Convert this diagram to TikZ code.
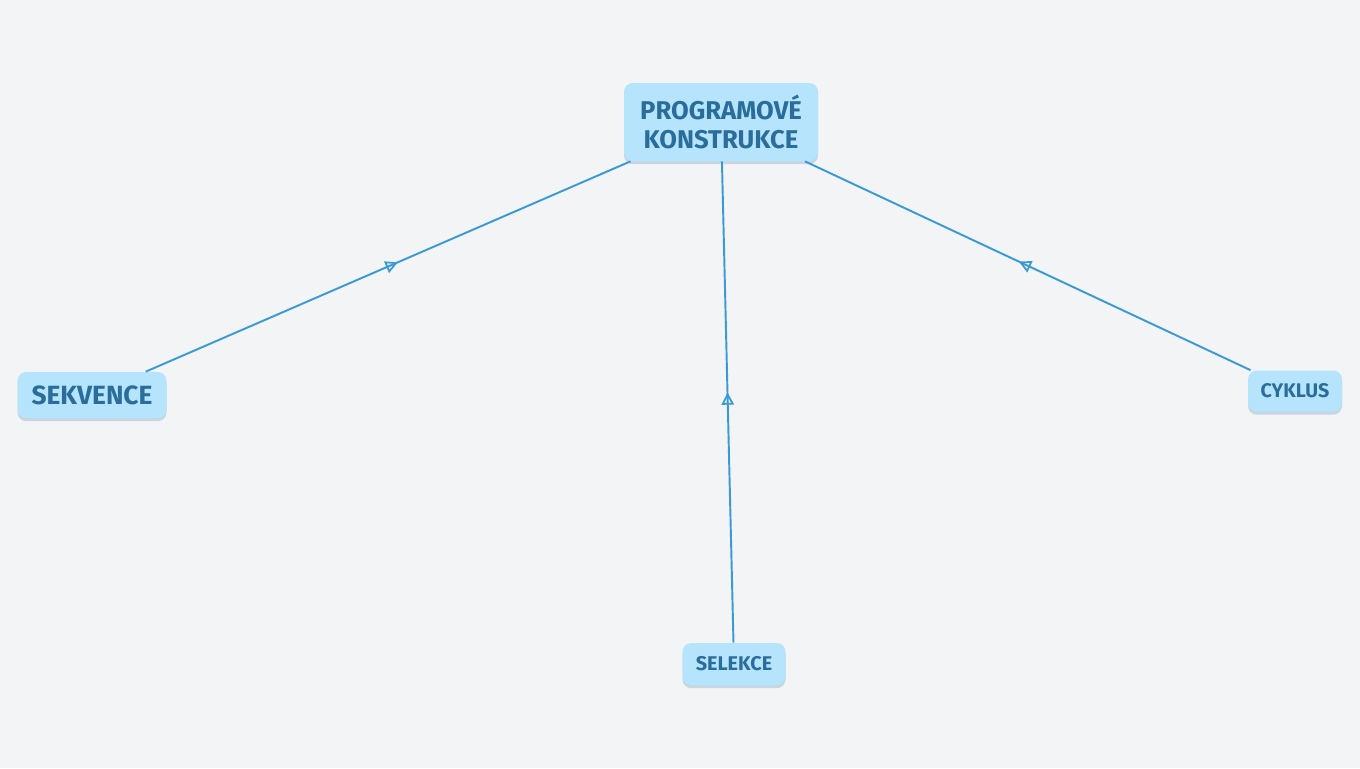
\documentclass[tikz,border=0pt]{standalone}
\usepackage{fontspec}
\setmainfont{Fira Sans}
\usetikzlibrary{arrows.meta,decorations.markings,shadows}
\definecolor{bgcol}{HTML}{F2F4F6}
\definecolor{topicfill}{HTML}{B5E4FC}
\definecolor{topictext}{HTML}{2A6D9B}
\definecolor{linkcol}{HTML}{3A9AD6}
\tikzset{
  topic/.style={fill=topicfill, text=topictext, font=\bfseries, align=center,
    rounded corners=5pt, inner sep=0pt,
    drop shadow={shadow xshift=0pt, shadow yshift=-1.8pt, opacity=0.22, fill=topictext}},
  link/.style={draw=linkcol, line width=1.1pt, postaction={decorate},
    decoration={markings, mark=at position 0.52 with {\arrow{Triangle[open, length=7pt, width=7pt, line width=1pt]}}}}
}
\begin{document}
\begin{tikzpicture}[x=0.02cm, y=-0.02cm]
    \fill[bgcol] (0,0) rectangle (1360,768);
    \useasboundingbox (0,0) rectangle (1360,768);

    \node[topic, minimum width=194*0.02cm, minimum height=78*0.02cm,
      font=\bfseries\fontsize{14.6}{17}\selectfont] (prog) at (721,122)
      {PROGRAMOVÉ\\KONSTRUKCE};
    \node[topic, minimum width=149*0.02cm, minimum height=46*0.02cm,
      font=\bfseries\fontsize{15}{16}\selectfont] (sek) at (92,395) {SEKVENCE};
    \node[topic, minimum width=103*0.02cm, minimum height=42*0.02cm,
      font=\bfseries\fontsize{11.3}{12}\selectfont] (sel) at (734,664) {SELEKCE};
    \node[topic, minimum width=94*0.02cm, minimum height=41*0.02cm,
      font=\bfseries\fontsize{11.2}{12}\selectfont] (cyk) at (1295,391) {CYKLUS};

    \draw[link] (sek) -- (prog);
    \draw[link] (sel) -- (prog);
    \draw[link] (cyk) -- (prog);
\end{tikzpicture}
\end{document}
